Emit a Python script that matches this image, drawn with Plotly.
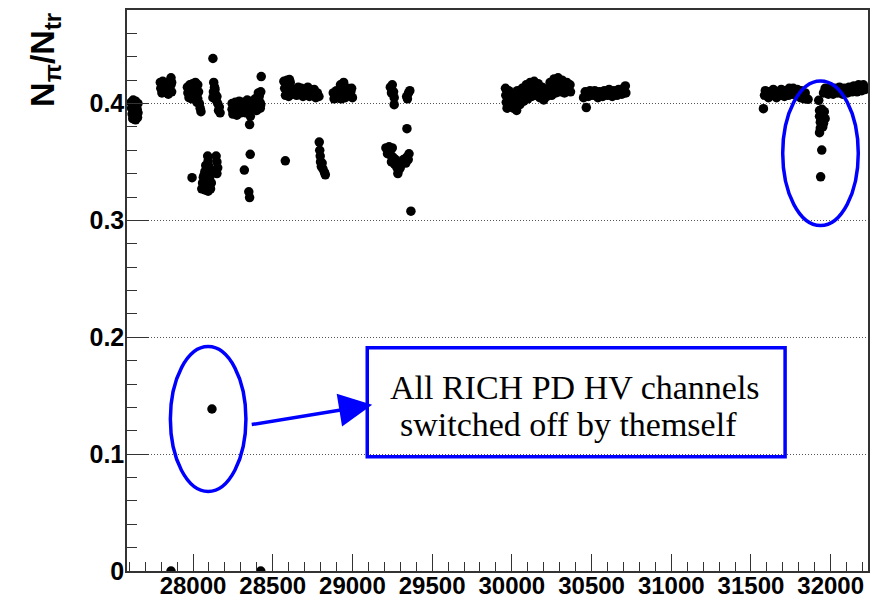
import plotly.graph_objects as go

# Run numbers (x) and N_pi/N_tr ratio (y)
runs = [
    # cluster near 27630
    27612, 27625, 27640, 27655, 27615, 27632, 27650, 27618, 27636, 27655, 27622, 27640, 27652, 27628, 27645,
    # cluster near 27830
    27795, 27810, 27828, 27845, 27862, 27798, 27815, 27832, 27850, 27866, 27805, 27825, 27845, 27862, 27866,
    # cluster near 28000
    27965, 27980, 27998, 28015, 28030, 27968, 27985, 28002, 28020, 28035, 27975, 27995, 28012, 28030, 28040, 28045, 28050, 28025,
    # cluster near 28140
    28130, 28135, 28128, 28140, 28125, 28145, 28155, 28165, 28160, 28170, 28150, 28138, 28125,
    # cluster near 28330
    28245, 28245, 28250, 28265, 28270, 28275, 28290, 28295, 28300, 28315, 28320, 28330, 28340, 28345, 28350,
    28365, 28370, 28360, 28355, 28390, 28395, 28400, 28415, 28420, 28422, 28425, 28410, 28425, 28428,
    # cluster near 28680
    28570, 28590, 28610, 28575, 28595, 28615, 28580, 28600, 28620, 28640, 28660, 28680, 28700, 28720, 28740,
    28760, 28780, 28790, 28650, 28690, 28730, 28770, 28605,
    # cluster near 28940
    28880, 28885, 28900, 28905, 28925, 28928, 28930, 28945, 28950, 28955, 28970, 28975, 28990, 29000, 28995,
    # clusters near 29250 / 29350
    29238, 29250, 29245, 29258, 29262, 29262, 29340, 29352, 29360, 29345, 29342,
    # low group near 28100
    28092, 28095, 28080, 28100, 28075, 28095, 28110, 28065, 28085, 28105, 28060, 28080, 28100, 28115,
    28055, 28075, 28095, 28110, 28070, 27994, 28145, 28150, 28155, 28150,
    # isolated low points
    28359, 28322, 28350, 28355, 28579,
    # low column near 28810
    28792, 28795, 28798, 28800, 28805, 28815, 28825, 28830, 28810,
    # low V near 29280
    29210, 29230, 29250, 29220, 29240, 29255, 29245, 29265, 29270, 29280, 29290, 29285, 29300, 29310, 29320,
    29340, 29355, 29350, 29335, 29367,
    # big cluster near 30150
    29960, 29962, 29965, 29970, 29980, 29985, 29990, 30000, 30005, 30010, 30020, 30025, 30030, 30035, 30045, 30050,
    30065, 30070, 30075, 30090, 30095, 30100, 30115, 30120, 30125, 30140, 30145, 30150, 30165, 30170, 30175,
    30190, 30195, 30200, 30215, 30220, 30240, 30245, 30250, 30265, 30270, 30275, 30290, 30295, 30300,
    30315, 30320, 30330, 30345, 30350, 30365, 30368,
    # cluster near 30580
    30450, 30460, 30480, 30490, 30510, 30520, 30540, 30550, 30570, 30580, 30600, 30610, 30630, 30640, 30660,
    30670, 30690, 30700, 30715, 30712, 30467,
    # cluster near 31700
    31585, 31590, 31610, 31615, 31635, 31640, 31660, 31665, 31685, 31690, 31710, 31715, 31735, 31740, 31760,
    31765, 31785, 31790, 31810, 31815, 31835, 31840, 31578, 31858,
    # cluster near 32080
    31955, 31965, 31985, 31995, 32015, 32025, 32045, 32055, 32075, 32085, 32105, 32115, 32135, 32145, 32165,
    32175, 32195, 32205, 32215,
    # drop near 31940
    31925, 31930, 31945, 31960, 31930, 31950, 31965, 31935, 31955, 31935, 31950, 31930, 31944, 31937,
    # HV trip points
    28119, 27862, 28425,
]

ratio = [
    0.401, 0.403, 0.402, 0.400, 0.396, 0.397, 0.395, 0.391, 0.390, 0.392, 0.387, 0.386, 0.388, 0.399, 0.393,
    0.418, 0.419, 0.418, 0.417, 0.416, 0.413, 0.412, 0.413, 0.411, 0.410, 0.409, 0.410, 0.408, 0.422, 0.418,
    0.414, 0.416, 0.417, 0.418, 0.416, 0.409, 0.410, 0.411, 0.412, 0.410, 0.405, 0.404, 0.406, 0.404, 0.400, 0.396, 0.393, 0.401,
    0.418, 0.414, 0.410, 0.408, 0.405, 0.403, 0.400, 0.397, 0.394, 0.392, 0.406, 0.412, 0.4385,
    0.400, 0.395, 0.391, 0.401, 0.396, 0.390, 0.402, 0.397, 0.392, 0.401, 0.396, 0.392, 0.403, 0.398, 0.393,
    0.402, 0.397, 0.389, 0.382, 0.404, 0.399, 0.394, 0.406, 0.401, 0.396, 0.410, 0.409, 0.399, 0.423,
    0.419, 0.420, 0.418, 0.413, 0.414, 0.412, 0.407, 0.406, 0.408, 0.412, 0.414, 0.413, 0.411, 0.414, 0.410,
    0.412, 0.409, 0.406, 0.407, 0.406, 0.406, 0.405, 0.4205,
    0.409, 0.404, 0.411, 0.405, 0.416, 0.410, 0.404, 0.418, 0.412, 0.405, 0.413, 0.407, 0.410, 0.405, 0.413,
    0.414, 0.416, 0.409, 0.410, 0.405, 0.399, 0.406, 0.409, 0.411, 0.404, 0.3785,
    0.355, 0.351, 0.347, 0.346, 0.342, 0.341, 0.343, 0.337, 0.336, 0.337, 0.332, 0.331, 0.330, 0.332,
    0.327, 0.326, 0.325, 0.327, 0.339, 0.3365, 0.355, 0.350, 0.345, 0.340,
    0.3565, 0.343, 0.3245, 0.3195, 0.351,
    0.367, 0.360, 0.355, 0.350, 0.346, 0.344, 0.341, 0.339, 0.349,
    0.362, 0.363, 0.362, 0.357, 0.356, 0.354, 0.350, 0.348, 0.352, 0.345, 0.343, 0.340, 0.345, 0.349, 0.352,
    0.354, 0.357, 0.352, 0.349, 0.3079,
    0.413, 0.407, 0.401, 0.396, 0.411, 0.404, 0.398, 0.409, 0.402, 0.396, 0.407, 0.400, 0.394, 0.411, 0.404, 0.399,
    0.413, 0.407, 0.402, 0.416, 0.410, 0.404, 0.418, 0.412, 0.406, 0.419, 0.414, 0.407, 0.417, 0.411, 0.405,
    0.414, 0.409, 0.403, 0.412, 0.406, 0.418, 0.412, 0.407, 0.421, 0.415, 0.409, 0.422, 0.416, 0.410,
    0.420, 0.414, 0.409, 0.418, 0.412, 0.416, 0.410,
    0.405, 0.410, 0.406, 0.411, 0.407, 0.411, 0.405, 0.410, 0.406, 0.411, 0.407, 0.412, 0.406, 0.411, 0.407,
    0.412, 0.408, 0.413, 0.409, 0.415, 0.3965,
    0.407, 0.411, 0.405, 0.410, 0.407, 0.412, 0.405, 0.410, 0.407, 0.412, 0.406, 0.411, 0.407, 0.413, 0.408,
    0.413, 0.407, 0.412, 0.405, 0.411, 0.404, 0.409, 0.3956, 0.4036,
    0.409, 0.413, 0.408, 0.413, 0.408, 0.413, 0.409, 0.414, 0.408, 0.413, 0.409, 0.414, 0.410, 0.415, 0.410,
    0.416, 0.411, 0.416, 0.412,
    0.4027, 0.394, 0.395, 0.393, 0.389, 0.388, 0.387, 0.384, 0.383, 0.379, 0.380, 0.375, 0.3602, 0.3373,
    0.1386, 0.0, 0.0,
]

x_ticks = [28000, 28500, 29000, 29500, 30000, 30500, 31000, 31500, 32000]
y_ticks = [0, 0.1, 0.2, 0.3, 0.4]

note_lines = ["All RICH PD HV channels", "switched off by themself"]

BLUE = "#0000ff"
AX = "#333333"
SANS = "Liberation Sans, Arial, Helvetica, sans-serif"
SERIF = "Liberation Serif, Times New Roman, serif"

fig = go.Figure()
fig.add_trace(go.Scatter(
    x=runs, y=ratio, mode="markers",
    marker=dict(color="black", size=9.5, line=dict(width=0)),
    showlegend=False, hoverinfo="x+y",
))

fig.update_layout(
    width=872, height=600,
    margin=dict(l=127, r=4, t=10, b=29),
    paper_bgcolor="white", plot_bgcolor="white",
    xaxis=dict(
        range=[27586, 32234], tickvals=x_ticks, tickformat="d", automargin=False,
        ticks="inside", ticklen=17, tickwidth=1.3, tickcolor=AX,
        minor=dict(dtick=100, tick0=28000, ticks="inside", ticklen=9, tickwidth=1.3, tickcolor=AX, showgrid=False),
        showline=True, linecolor=AX, linewidth=1.5, mirror=True,
        showgrid=False, zeroline=False, ticklabelstandoff=-8,
        tickfont=dict(family=SANS, size=24, color="black", weight="bold"),
    ),
    yaxis=dict(
        range=[0, 0.48], tickvals=y_ticks, automargin=False,
        ticks="inside", ticklen=22, tickwidth=1.3, tickcolor=AX,
        minor=dict(dtick=0.02, tick0=0, ticks="inside", ticklen=10, tickwidth=1.3, tickcolor=AX, showgrid=False),
        showline=True, linecolor=AX, linewidth=1.5, mirror=True,
        showgrid=True, gridcolor="#555555", gridwidth=1, griddash="1px,2px",
        zeroline=False, ticklabelstandoff=-4,
        tickfont=dict(family=SANS, size=25, color="black", weight="bold"),
    ),
    shapes=[
        dict(type="circle", xref="x", yref="y", x0=27858, x1=28332, y0=0.068, y1=0.192,
             line=dict(color=BLUE, width=3.5)),
        dict(type="circle", xref="x", yref="y", x0=31699, x1=32173, y0=0.2956, y1=0.4193,
             line=dict(color=BLUE, width=3.5)),
        dict(type="rect", xref="x", yref="y", x0=29093, x1=31714, y0=0.0977, y1=0.1911,
             line=dict(color=BLUE, width=3.5), fillcolor="rgba(0,0,0,0)"),
    ],
    annotations=[
        dict(xref="paper", yref="paper", x=-0.1107, y=0.911, textangle=-90,
             text="<b>N<sub>π</sub>/N<sub>tr</sub></b>", showarrow=False,
             font=dict(family=SANS, size=34, color="black"),
             xanchor="center", yanchor="middle"),
        dict(xref="x", yref="y", x=30397, y=0.1568, text=note_lines[0], showarrow=False,
             font=dict(family=SERIF, size=34, color="black"), xanchor="center", yanchor="middle"),
        dict(xref="x", yref="y", x=30356, y=0.1251, text=note_lines[1], showarrow=False,
             font=dict(family=SERIF, size=34, color="black"), xanchor="center", yanchor="middle"),
        dict(xref="x", yref="y", x=29124, y=0.1422, axref="x", ayref="y", ax=28359, ay=0.1251,
             text="", showarrow=True, arrowhead=2, arrowsize=1.9, arrowwidth=3.5, arrowcolor=BLUE),
    ],
)

fig.write_html("out.html")
